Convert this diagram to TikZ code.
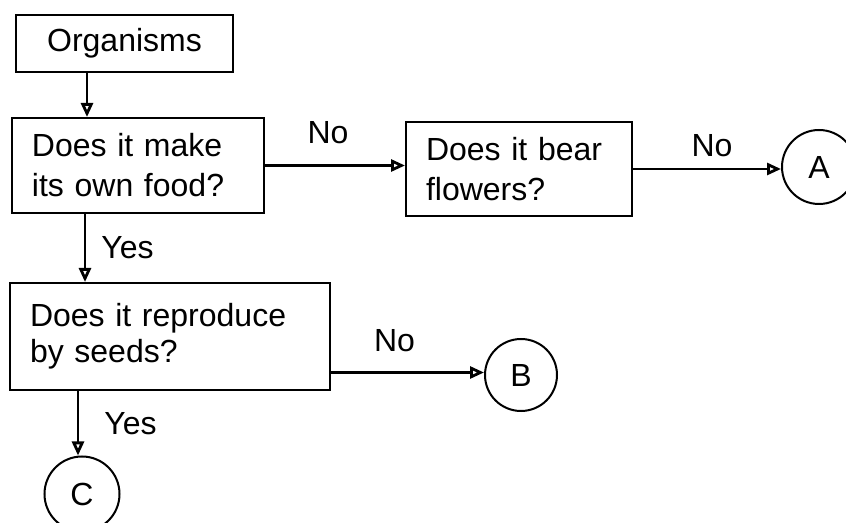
\documentclass[tikz,border=0pt]{standalone}
\usepackage{fontspec}
\setmainfont{Liberation Sans}
\usetikzlibrary{arrows.meta}
\begin{document}
\begin{tikzpicture}[x=0.5pt,y=-0.5pt,
    box/.style={draw,line width=1pt,rectangle,align=left,inner xsep=10pt,font=\fontsize{16}{20}\selectfont},
    circ/.style={draw,line width=1pt,circle,inner sep=0pt,font=\fontsize{16}{20}\selectfont},
    arr/.style={-{Triangle[open,length=7pt,width=6pt]},line width=1.4pt},
    lbl/.style={font=\fontsize{16}{20}\selectfont,inner sep=0pt}]
  \useasboundingbox (0,0) rectangle (846,523);
  \node[box,align=center,minimum width=108.5pt,minimum height=28.5pt] (org) at (124.5,43.5) {Organisms};
  \node[box,text width=106pt,minimum height=47.5pt] (food) at (138,165.5) {Does it make\\its own food?};
  \node[box,text width=93pt,minimum height=47pt] (flowers) at (519,169) {Does it bear\\flowers?};
  \node[box,text width=140pt,minimum height=53.5pt,font=\fontsize{16}{18}\selectfont] (seeds) at (170,336.5) {Does it reproduce\\by seeds?};
  \node[circ,minimum size=37pt] (A) at (819,167) {A};
  \node[circ,minimum size=36pt] (B) at (521,375) {B};
  \node[circ,minimum size=37.5pt] (C) at (82,494) {C};
  \draw[arr] ([xshift=-18.75pt]org.south) -- ([xshift=-25.5pt]food.north);
  \draw[arr] (food.east) -- (food.east -| flowers.west) node[lbl,midway,above=10pt,xshift=-3.5pt] (no1) {No};
  \draw[arr] (flowers.east) -- (flowers.east -| A.west) node[lbl,midway,above=5.5pt,xshift=2.5pt] (no2) {No};
  \draw[arr] ([xshift=-26.5pt]food.south) -- ([xshift=-26.5pt]food.south |- seeds.north) node[lbl,midway,right=7.5pt] (yes1) {Yes};
  \draw[arr] ([yshift=-18pt]seeds.east) -- ([yshift=-18pt]seeds.east -| B.west) node[lbl,midway,above=9.5pt,xshift=-6.5pt] (no3) {No};
  \draw[arr] ([xshift=-46pt]seeds.south) -- ([xshift=-46pt]seeds.south |- C.north) node[lbl,midway,right=12.5pt] (yes2) {Yes};
\end{tikzpicture}
\end{document}
